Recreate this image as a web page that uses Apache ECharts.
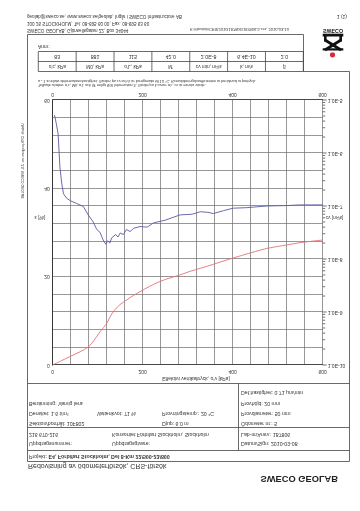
<!DOCTYPE html>
<html><head><meta charset="utf-8">
<script src="https://cdn.jsdelivr.net/npm/echarts@6/dist/echarts.min.js"></script>
<style>html,body{margin:0;padding:0;background:#fff;}#c{width:360px;height:511px;transform:scaleY(-1);}</style>
</head><body><div id="c"></div><script>
// ---- data (the page is a vertically mirrored scan) ----
const xTickLabels = [0, 200, 400, 600];
const leftTickLabels = [0, 20, 40, 60];
const logDecades = [-10, -9, -8, -7, -6];
const minorMultipliers = [2, 3, 4, 5, 6, 7, 8, 9];

// Strain, epsilon [%] vs effective vertical stress [kPa]
const epsStress = [0, 20, 38, 61, 79, 92, 105, 113, 120, 128, 138, 150, 164, 180, 194, 215, 238, 260, 283, 305, 328, 357, 387, 420, 450, 476, 510, 550, 600];
const epsValues = [0, 1.0, 1.9, 3.0, 4.1, 5.6, 7.5, 8.5, 9.4, 11.0, 12.5, 13.7, 14.7, 15.8, 16.6, 17.8, 18.9, 19.7, 20.4, 21.2, 21.9, 22.8, 23.8, 24.8, 25.7, 26.4, 27.0, 27.7, 28.3];

// Consolidation coefficient cv [m2/s] vs effective vertical stress [kPa]
const cvStress = [4, 8, 12, 16, 20, 24, 31, 40, 53, 68, 79, 90, 98, 105, 112, 118, 122, 127, 131, 135, 140, 145, 150, 157, 164, 172, 180, 194, 210, 224, 250, 283, 310, 328, 345, 357, 380, 401, 430, 476, 520, 550, 600];
const cvValues = [5.2e-6, 3.6e-6, 2.3e-6, 5.5e-7, 2.7e-7, 1.7e-7, 1.4e-7, 1.25e-7, 1.12e-7, 9.8e-8, 6.8e-8, 5.0e-8, 3.6e-8, 3.2e-8, 2.3e-8, 1.9e-8, 2.2e-8, 2.0e-8, 2.5e-8, 2.3e-8, 2.9e-8, 2.6e-8, 3.1e-8, 2.9e-8, 3.6e-8, 3.3e-8, 3.8e-8, 4.1e-8, 4.0e-8, 4.8e-8, 5.4e-8, 6.8e-8, 7.0e-8, 7.8e-8, 7.6e-8, 7.2e-8, 8.2e-8, 9.1e-8, 9.3e-8, 1.0e-7, 1.02e-7, 1.05e-7, 1.05e-7];

// Result table
const tableHeaders = ["σ'c, kPa", "M0, kPa", "σ'L, kPa", "M'", "cv min, m²/s", "k, m/s", "β"];
const tableValues = ["83", "881", "115", "42.0", "2.0E-8", "6.4E-10", "2.0"];

// ---- chart ----
const FF = "'Liberation Sans', Arial, sans-serif";
const INK = '#333';
const chart = echarts.init(document.getElementById('c'), null, {renderer: 'canvas'});

function T(x, y, text, size, opt) {
  return {type: 'text', x: x, y: y, silent: true, z: 100,
    style: Object.assign({text: text, fontSize: size, fontFamily: FF, fill: INK, align: 'left', verticalAlign: 'middle'}, opt || {})};
}
function L(x1, y1, x2, y2, w, c) {
  return {type: 'line', silent: true, z: 90, shape: {x1: x1, y1: y1, x2: x2, y2: y2}, style: {stroke: c || '#444', lineWidth: w || 0.8}};
}

const g = [];
// header
g.push(T(338, 32, 'SWECO GEOLAB', 9.3, {fontWeight: 'bold', align: 'right', fill: '#222'}));
g.push(T(28, 45, 'Redovisning av ödometerförsök, CRS-försök', 7));
// outer frame
g.push({type: 'polyline', silent: true, z: 90, shape: {points: [[303.5, 476.5], [27.5, 476.5], [27.5, 49.5], [349.5, 49.5], [349.5, 439.5], [303.5, 439.5], [303.5, 476.5]]}, style: {stroke: '#444', lineWidth: 0.8, fill: null}});
g.push(L(27.5, 60.5, 349.5, 60.5));
g.push(L(27.5, 83.5, 349.5, 83.5));
g.push(L(27.5, 127.5, 349.5, 127.5));
g.push(L(238.5, 60.5, 238.5, 127.5));
g.push({type: 'text', x: 29, y: 55, silent: true, z: 100, style: {text: '{a|Projekt: }{b|E4, Förbifart Stockholm, Del 8-Km 22/500-23/800}', fontFamily: FF, fontSize: 5.3, fill: INK, verticalAlign: 'middle',
  rich: {a: {fontSize: 5.3, fontFamily: FF, fill: INK}, b: {fontSize: 5.3, fontFamily: FF, fill: INK, fontWeight: 'bold'}}}});
const fs = 5.2;
g.push(T(29, 68, 'Uppdragsnummer:', fs));
g.push(T(112, 68, 'Uppdragsgivare:', fs));
g.push(T(241, 68, 'Datum/Sign: 2010-03-08', fs));
g.push(T(29, 77, '216 670-216', fs));
g.push(T(112, 77, 'Konsortiet Förbifart Stockholm, Stockholm', fs));
g.push(T(241, 77, 'Lab-nr/Ansv.: 187806', fs));
g.push(T(29, 88, 'Sektion/borrhål: 10F802', fs));
g.push(T(162, 88, 'Djup: 6.0 m', fs));
g.push(T(241, 88, 'Ödometer nr.: 5', fs));
g.push(T(29, 98, 'Densitet: 1.6 t/m³', fs));
g.push(T(97, 98, 'Vattenkvot: 71 %', fs));
g.push(T(162, 98, 'Provningstemp.: 20 °C', fs));
g.push(T(241, 98, 'Provdiameter: 50 mm', fs));
g.push(T(29, 108, 'Benämning: Varvig lera', fs));
g.push(T(241, 108, 'Provhöjd: 20 mm', fs));
g.push(T(241, 119, 'Def.hastighet: 0.71 μm/min', fs));
// axis captions
g.push(T(196, 133, "Effektivt vertikaltryck, σ'v [kPa]", 5, {align: 'center'}));
g.push(T(40, 294, 'ε [%]', 5, {align: 'center'}));
g.push(T(326, 294, 'cv [m²/s]', 4.6));
g.push(T(22.7, 350, 'Utskrift: CRS-program ver. 2.1, SWECO GEOLAB', 3.4, {align: 'center'}));
g[g.length - 1].rotation = Math.PI / 2;
// notes
g.push(T(38, 425.7, "Tolkade värden: σ'c, M0, σ'L och M' enligt SGI Information 3. Värdet på k avser σ'c, cv är minsta värde.", 3.7));
g.push(T(38, 430.3, "a - 1 = relativ deformationshastighet. Värden på cv och k är korrigerade till 10 °C. Konsolideringskoefficienten är beräknad ur portryck.", 3.7));
// table
const tx0 = 38.3, tcw = 37.86;
g.push({type: 'rect', silent: true, z: 90, shape: {x: tx0, y: 439.5, width: tcw * 7, height: 20}, style: {stroke: '#444', lineWidth: 0.8, fill: null}});
g.push(L(tx0, 449.5, tx0 + tcw * 7, 449.5));
for (let i = 1; i < 7; i++) g.push(L(tx0 + tcw * i, 439.5, tx0 + tcw * i, 459.5));
tableHeaders.forEach(function (h, i) { g.push(T(tx0 + tcw * (i + 0.5), 444.5, h, 4.8, {align: 'center'})); });
tableValues.forEach(function (v, i) { g.push(T(tx0 + tcw * (i + 0.5), 454.5, v, 5.3, {align: 'center'})); });
g.push(T(38, 464.5, 'Anm:', 5));
// footer
g.push(T(27, 481, 'SWECO GEOLAB, Gjörwellsgatan 22, Box 34044', 4.6));
g.push(T(27, 487.5, '100 26 STOCKHOLM, Tel. 08-695 60 00, Fax. 08-695 63 60', 4.6));
g.push(T(27, 494.5, 'geolab@sweco.se, www.sweco.se/geolab, Ingår i SWECO Infrastructure AB', 4.6));
g.push(T(190, 482, 'K:\\Geolab\\CRS\\2010\\187806\\187806-5.crs, 2010-03-10', 4.0));
g.push(T(347, 495, '1 (1)', 5, {align: 'right'}));
// logo
g.push(T(333, 480.5, 'SWECO', 5.3, {fontWeight: 'bold', align: 'center', fill: '#111'}));
g.push({type: 'rect', silent: true, z: 95, shape: {x: 322.7, y: 474.5, width: 20.6, height: 2.8}, style: {fill: '#111'}});
g.push({type: 'rect', silent: true, z: 95, shape: {x: 324, y: 469.5, width: 2.6, height: 6}, style: {fill: '#111'}});
g.push({type: 'rect', silent: true, z: 95, shape: {x: 339.4, y: 469.5, width: 2.6, height: 6}, style: {fill: '#111'}});
g.push(L(325, 471, 341, 461, 2.8, '#111'));
g.push(L(341, 471, 325, 461, 2.8, '#111'));
g.push({type: 'rect', silent: true, z: 95, shape: {x: 322.7, y: 460.5, width: 20.6, height: 2.2}, style: {fill: '#111'}});
g.push({type: 'circle', silent: true, z: 95, shape: {cx: 332.5, cy: 456, r: 2.6}, style: {fill: '#e2273a'}});

// log minor ticks for the right axis
const logTicks = [];
logDecades.forEach(function (d) {
  logTicks.push([600, Math.pow(10, d), 1]);
  minorMultipliers.forEach(function (m) { logTicks.push([600, m * Math.pow(10, d), 0]); });
});
logTicks.push([600, 1e-5, 1]);

const gridColor = '#6a6a6a';
const axisLbl = {fontSize: 5, fontFamily: FF, color: INK};

chart.setOption({
  animation: false,
  backgroundColor: '#fff',
  grid: {left: 52.7, top: 146, width: 270, height: 265, containLabel: false},
  xAxis: [
    {type: 'value', position: 'top', min: 0, max: 600, interval: 40,
      axisLine: {show: true, lineStyle: {color: '#333', width: 0.8}}, axisTick: {show: false},
      splitLine: {show: true, lineStyle: {color: gridColor, width: 0.7}},
      axisLabel: Object.assign({margin: 3.5, formatter: function (v) { return xTickLabels.indexOf(v) >= 0 ? String(v) : ''; }}, axisLbl)},
    {type: 'value', position: 'bottom', min: 0, max: 600, interval: 40,
      axisLine: {show: true, lineStyle: {color: '#333', width: 0.8}}, axisTick: {show: false},
      splitLine: {show: false},
      axisLabel: Object.assign({margin: 3.5, formatter: function (v) { return xTickLabels.indexOf(v) >= 0 ? String(v) : ''; }}, axisLbl)}
  ],
  yAxis: [
    {type: 'value', position: 'left', min: 0, max: 60, interval: 4, inverse: true,
      axisLine: {show: true, lineStyle: {color: '#333', width: 0.8}}, axisTick: {show: false},
      splitLine: {show: true, lineStyle: {color: gridColor, width: 0.7}},
      axisLabel: Object.assign({margin: 3, formatter: function (v) { return leftTickLabels.indexOf(v) >= 0 ? String(v) : ''; }}, axisLbl)},
    {type: 'log', logBase: 10, position: 'right', min: 1e-10, max: 1e-5, inverse: true,
      axisLine: {show: true, lineStyle: {color: '#333', width: 0.8}}, axisTick: {show: false},
      splitLine: {show: false},
      axisLabel: Object.assign({margin: 5, formatter: function (v) { return '1.0E' + Math.round(Math.log10(v)); }}, axisLbl)}
  ],
  graphic: g,
  series: [
    {name: 'ε', type: 'line', xAxisIndex: 0, yAxisIndex: 0, showSymbol: false, smooth: 0.3,
      lineStyle: {color: '#e07474', width: 0.9}, itemStyle: {color: '#e07474'},
      data: epsStress.map(function (s, i) { return [s, epsValues[i]]; })},
    {name: 'cv', type: 'line', xAxisIndex: 0, yAxisIndex: 1, showSymbol: false,
      lineStyle: {color: '#5a5aa6', width: 0.9}, itemStyle: {color: '#5a5aa6'},
      data: cvStress.map(function (s, i) { return [s, cvValues[i]]; })},
    {name: 'logticks', type: 'custom', xAxisIndex: 0, yAxisIndex: 1, silent: true, encode: {x: 0, y: 1},
      data: logTicks,
      renderItem: function (params, api) {
        const p = api.coord([api.value(0), api.value(1)]);
        const len = api.value(2) ? 4 : 2.5;
        return {type: 'line', shape: {x1: p[0], y1: p[1], x2: p[0] + len, y2: p[1]}, style: {stroke: '#333', lineWidth: 0.7}};
      }}
  ]
});
</script></body></html>
